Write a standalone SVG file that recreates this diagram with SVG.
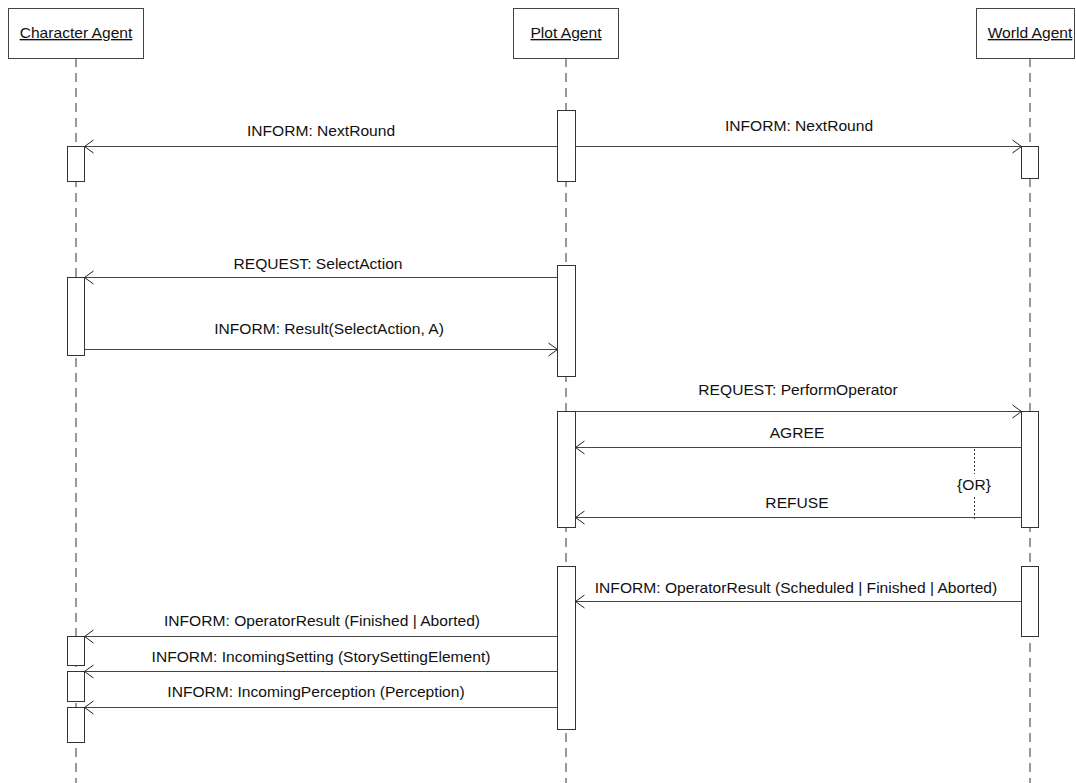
<svg xmlns="http://www.w3.org/2000/svg" width="1076" height="783" viewBox="0 0 1076 783">
  <style>
    .head { fill: #ffffff; stroke: #444444; stroke-width: 1; }
    .life { stroke: #555555; stroke-width: 1.2; stroke-dasharray: 9 6; fill: none; }
    .act { fill: #ffffff; stroke: #333333; stroke-width: 1; }
    .msg { stroke: #444444; stroke-width: 1; fill: none; marker-end: url(#open); }
    .or { stroke: #333333; stroke-width: 1; stroke-dasharray: 2 2; fill: none; }
    text { font-family: "Liberation Sans", Arial, sans-serif; font-size: 14px; fill: #111111; text-anchor: middle; }
    .title { text-decoration: underline; }
  </style>
  <defs>
    <marker id="open" markerUnits="userSpaceOnUse" markerWidth="14" markerHeight="16" viewBox="-11 -8 12 16" refX="0" refY="0" orient="auto">
      <path d="M -9 -6.5 L 0 0 L -9 6.5" fill="none" stroke="#222222" stroke-width="1"/>
    </marker>
  </defs>

  <rect width="1076" height="783" fill="#ffffff"/>

  <!-- lifelines -->
  <g id="lifelines">
    <line class="life" x1="76" y1="58" x2="76" y2="783"/>
    <line class="life" x1="566" y1="58" x2="566" y2="783"/>
    <line class="life" x1="1030" y1="58" x2="1030" y2="783"/>
  </g>

  <!-- participants with their activation bars -->
  <g id="character-agent">
    <rect class="head" x="8.5" y="8.5" width="135" height="50"/>
    <text class="title" transform="translate(76,38) scale(1.115,1)">Character Agent</text>
    <rect class="act" x="67.5" y="146.5" width="17" height="35"/>
    <rect class="act" x="67.5" y="277.5" width="17" height="78"/>
    <rect class="act" x="67.5" y="636.5" width="17" height="29"/>
    <rect class="act" x="67.5" y="671.5" width="17" height="30"/>
    <rect class="act" x="67.5" y="707.5" width="17" height="35"/>
  </g>

  <g id="plot-agent">
    <rect class="head" x="513.5" y="8.5" width="105" height="50"/>
    <text class="title" transform="translate(566,38) scale(1.115,1)">Plot Agent</text>
    <rect class="act" x="557.5" y="110.5" width="18" height="71"/>
    <rect class="act" x="557.5" y="265.5" width="18" height="111"/>
    <rect class="act" x="557.5" y="411.5" width="18" height="116"/>
    <rect class="act" x="557.5" y="566.5" width="18" height="163"/>
  </g>

  <g id="world-agent">
    <rect class="head" x="976.5" y="8.5" width="98" height="50"/>
    <text class="title" transform="translate(1030,38) scale(1.115,1)">World Agent</text>
    <rect class="act" x="1021.5" y="146.5" width="17" height="32"/>
    <rect class="act" x="1021.5" y="411.5" width="17" height="116"/>
    <rect class="act" x="1021.5" y="566.5" width="17" height="70"/>
  </g>

  <!-- messages -->
  <g id="connectors">
    <line class="msg" x1="557.5" y1="146.5" x2="84.5" y2="146.5"/>
    <line class="msg" x1="575.5" y1="146.5" x2="1021.5" y2="146.5"/>
    <line class="msg" x1="557.5" y1="277.5" x2="84.5" y2="277.5"/>
    <line class="msg" x1="84.5" y1="349.5" x2="557.5" y2="349.5"/>
    <line class="msg" x1="575.5" y1="411.5" x2="1021.5" y2="411.5"/>
    <line class="msg" x1="1021.5" y1="447.5" x2="575.5" y2="447.5"/>
    <line class="msg" x1="1021.5" y1="517.5" x2="575.5" y2="517.5"/>
    <!-- alternative-reply constraint, broken around its label -->
    <line class="or" x1="974.5" y1="449" x2="974.5" y2="474"/>
    <line class="or" x1="974.5" y1="497" x2="974.5" y2="519"/>
    <line class="msg" x1="1021.5" y1="601.5" x2="575.5" y2="601.5"/>
    <line class="msg" x1="557.5" y1="636.5" x2="84.5" y2="636.5"/>
    <line class="msg" x1="557.5" y1="671.5" x2="84.5" y2="671.5"/>
    <line class="msg" x1="557.5" y1="707.5" x2="84.5" y2="707.5"/>
  </g>

  <!-- message labels -->
  <g id="labels">
    <text transform="translate(321,136) scale(1.115,1)">INFORM: NextRound</text>
    <text transform="translate(799,131) scale(1.115,1)">INFORM: NextRound</text>
    <text transform="translate(318,269) scale(1.115,1)">REQUEST: SelectAction</text>
    <text transform="translate(329,334) scale(1.115,1)">INFORM: Result(SelectAction, A)</text>
    <text transform="translate(798,395) scale(1.115,1)">REQUEST: PerformOperator</text>
    <text transform="translate(797,438) scale(1.115,1)">AGREE</text>
    <text transform="translate(797,508) scale(1.115,1)">REFUSE</text>
    <text transform="translate(974,490) scale(1.115,1)">{OR}</text>
    <text transform="translate(796,593) scale(1.115,1)">INFORM: OperatorResult (Scheduled | Finished | Aborted)</text>
    <text transform="translate(322,626) scale(1.115,1)">INFORM: OperatorResult (Finished | Aborted)</text>
    <text transform="translate(321,662) scale(1.115,1)">INFORM: IncomingSetting (StorySettingElement)</text>
    <text transform="translate(316,697) scale(1.115,1)">INFORM: IncomingPerception (Perception)</text>
  </g>
</svg>
